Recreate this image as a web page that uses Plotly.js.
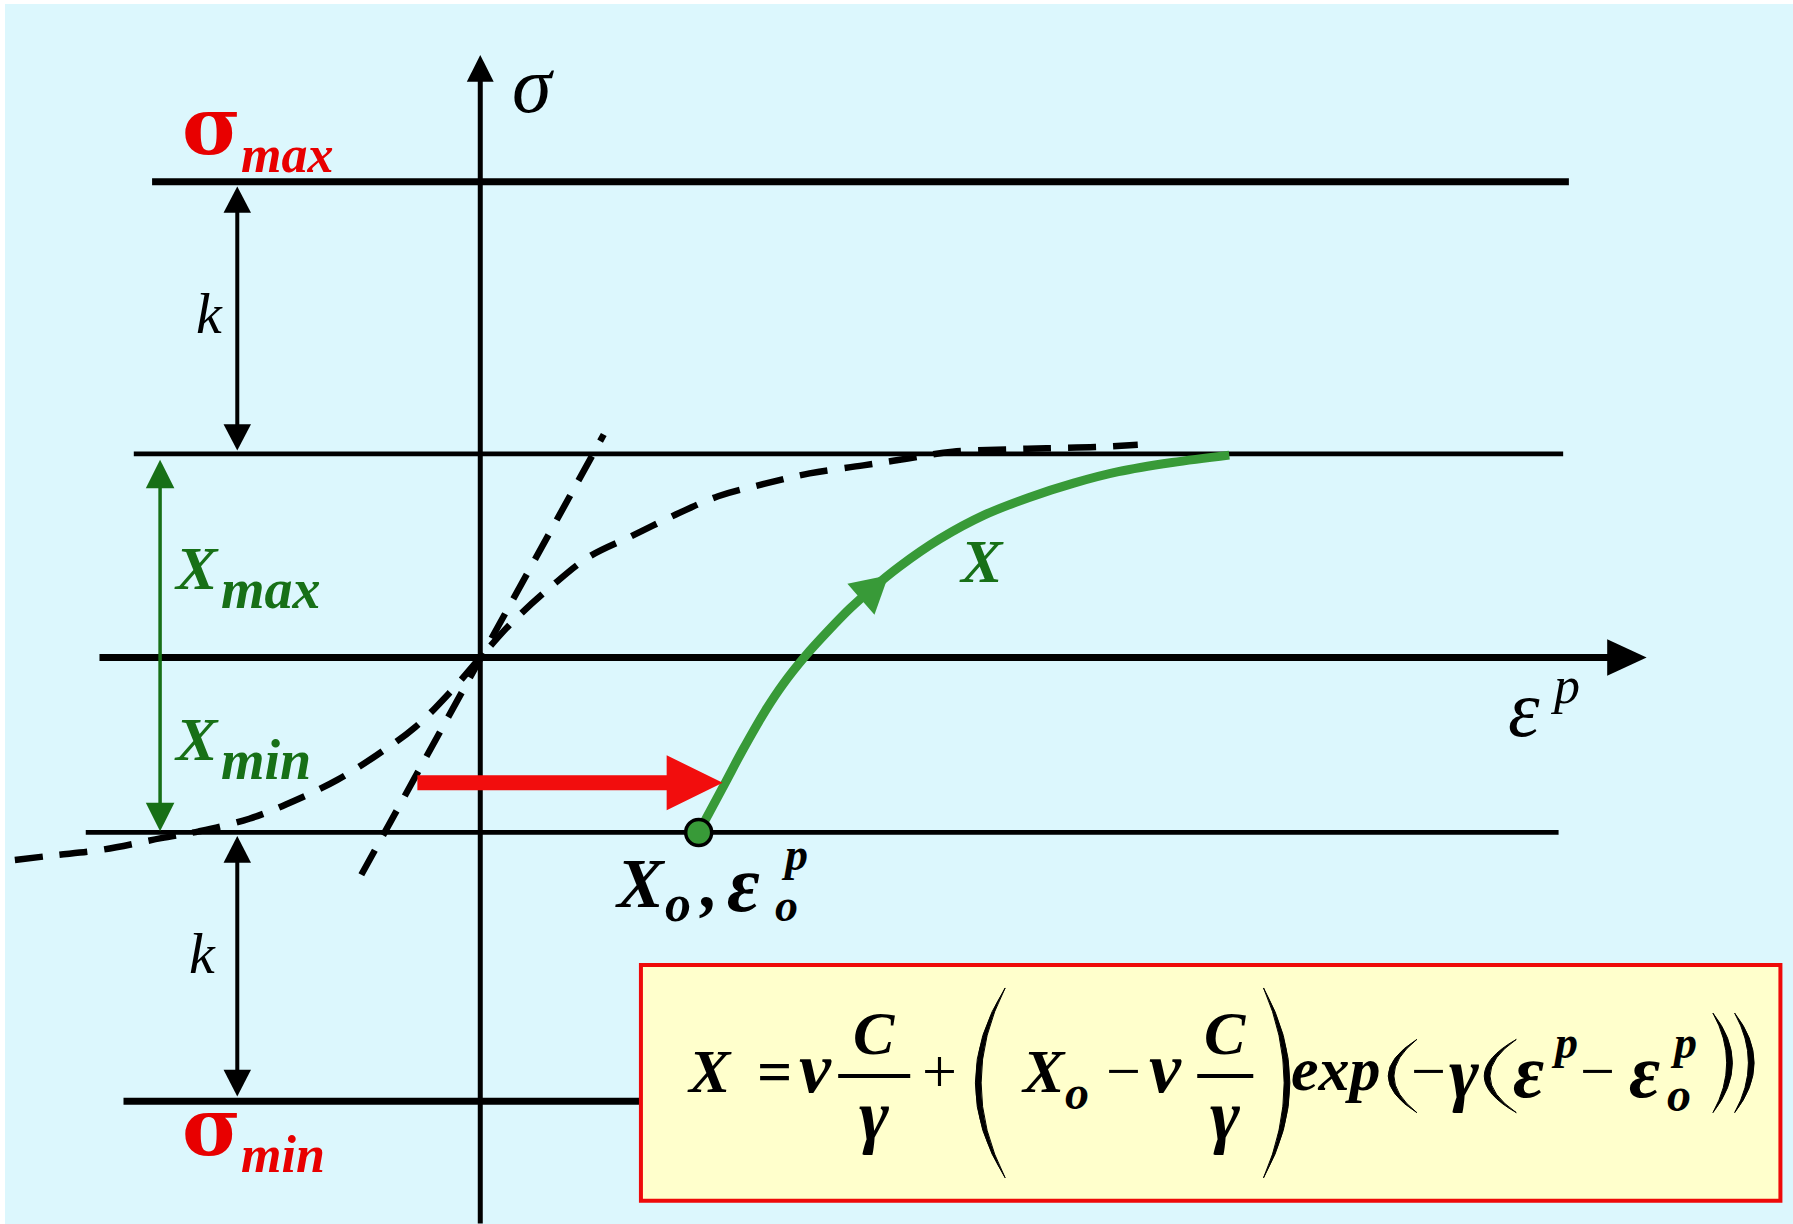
<!DOCTYPE html>
<html>
<head>
<meta charset="utf-8">
<script src="https://cdn.plot.ly/plotly-3.0.1.min.js"></script>
<style>
  html, body { margin: 0; padding: 0; background: #ffffff; }
  #chart { width: 1793px; height: 1224px; }
</style>
</head>
<body>
<div id="chart"></div>
<script>
// ---- Stress levels (stress units, origin at the axes crossing) ----
const levelNames  = ['σmax', 'Xmax', 'εp axis', 'Xmin', 'σmin'];
const levelValues = [4.16, 1.78, 0.00, -1.53, -3.88];
const levelStarts = [-2.87, -3.03, -3.33, -3.45, -3.12];
const levelEnds   = [9.52, 9.47, 9.87, 9.43, 1.50];

// ---- Saturating back-stress curve X(εp), dashed ----
const satStrain = [-4.07, -3.73, -3.30, -2.79, -2.46, -2.02, -1.62, -1.25, -0.90, -0.57, -0.27, 0.00,
                   0.28, 0.62, 0.95, 1.32, 1.71, 2.08, 2.49, 2.88, 3.35, 3.74, 4.13, 4.60, 4.95, 5.38, 5.75];
const satStress = [-1.77, -1.73, -1.68, -1.58, -1.52, -1.41, -1.25, -1.07, -0.85, -0.61, -0.31, 0.00,
                   0.31, 0.62, 0.88, 1.06, 1.25, 1.41, 1.52, 1.61, 1.68, 1.74, 1.80, 1.82, 1.83, 1.84, 1.86];

// ---- Initial slope through the origin, dashed ----
const slopeStrain = [-1.04, 1.08];
const slopeStress = [-1.90, 1.95];

// ---- Back-stress evolution starting from (X0, εp0) ----
const pathStrain = [1.91, 2.14, 2.30, 2.49, 2.65, 2.84, 3.04, 3.235, 3.43, 3.665, 4.015, 4.405, 4.80, 5.19, 5.58, 6.05, 6.55];
const pathStress = [-1.53, -1.10, -0.80, -0.47, -0.23, 0.01, 0.23, 0.43, 0.605, 0.795, 1.035, 1.245, 1.40, 1.525, 1.625, 1.705, 1.77];
const startStrain = [1.91];
const startStress = [-1.53];

// ---- Stress axis extent ----
const sigmaAxisBottom = -4.95;
const sigmaAxisTop = 5.27;
const strainAxisTip = 10.20;

// ---- Dimension arrows (strain position) ----
const kArrowStrain = -2.125;
const xArrowStrain = -2.80;

// colours
const BLACK = '#000000';
const RED = '#E80000';
const ARROW_RED = '#F20D0D';
const DARK_GREEN = '#177017';
const CURVE_GREEN = '#389A38';
const BG = '#DCF7FD';
const SERIF = 'Liberation Serif, Times New Roman, serif';
const GREEK_BOLD = 'DejaVu Serif, Liberation Serif, serif';

const traces = [];
const shapes = [];
const annotations = [];

// horizontal levels
const levelWidths = [7, 4.7, 7, 4.7, 7];
levelNames.forEach((name, i) => {
  traces.push({
    type: 'scatter', mode: 'lines', name: name,
    x: [levelStarts[i], levelEnds[i]],
    y: [levelValues[i], levelValues[i]],
    line: { color: BLACK, width: levelWidths[i] }
  });
});

// vertical stress axis
traces.push({
  type: 'scatter', mode: 'lines', name: 'σ axis',
  x: [0, 0], y: [sigmaAxisBottom, sigmaAxisTop - 0.2],
  line: { color: BLACK, width: 5 }
});

// dashed curves
const dashStyle = { color: BLACK, width: 6.5, dash: '28px,17px' };
traces.push({
  type: 'scatter', mode: 'lines', name: 'saturation',
  x: satStrain, y: satStress,
  line: Object.assign({ shape: 'spline', smoothing: 1 }, dashStyle)
});
traces.push({
  type: 'scatter', mode: 'lines', name: 'initial slope',
  x: slopeStrain, y: slopeStress, line: dashStyle
});

// dimension arrow shafts
[[0, 1], [3, 4]].forEach(([a, b]) => {
  traces.push({
    type: 'scatter', mode: 'lines', name: 'k',
    x: [kArrowStrain, kArrowStrain],
    y: [levelValues[a] - 0.1, levelValues[b] + 0.1],
    line: { color: BLACK, width: 4 }
  });
});
traces.push({
  type: 'scatter', mode: 'lines', name: 'X range',
  x: [xArrowStrain, xArrowStrain],
  y: [levelValues[1] - 0.1, levelValues[3] + 0.1],
  line: { color: DARK_GREEN, width: 3.5 }
});

// back-stress path and its starting point
traces.push({
  type: 'scatter', mode: 'lines', name: 'X',
  x: pathStrain, y: pathStress,
  line: { color: CURVE_GREEN, width: 9, shape: 'spline', smoothing: 1 }
});
traces.push({
  type: 'scatter', mode: 'markers', name: 'X0',
  x: startStrain, y: startStress,
  marker: { color: CURVE_GREEN, size: 26, line: { color: BLACK, width: 3.5 } }
});

// ---- helpers for drawn symbols ----
function headPath(tx, ty, dx, dy, len, width) {
  const n = Math.hypot(dx, dy);
  const ux = dx / n, uy = dy / n;
  const bx = tx - ux * len, by = ty - uy * len;
  const px = -uy * width / 2, py = ux * width / 2;
  return `M${tx},${ty} L${bx + px},${by + py} L${bx - px},${by - py} Z`;
}
function addHead(tx, ty, dx, dy, len, width, color) {
  shapes.push({
    type: 'path', xref: 'x', yref: 'y', layer: 'above',
    path: headPath(tx, ty, dx, dy, len, width),
    fillcolor: color, line: { width: 0 }
  });
}
function parenPath(x0, x1, y0, y1, open, th) {
  const ym = (y0 + y1) / 2;
  if (open) {
    const cOut = 2 * x0 - x1, cIn = 2 * (x0 + th) - x1;
    return `M${x1},${y1} Q${cOut},${ym} ${x1},${y0} Q${cIn},${ym} ${x1},${y1} Z`;
  }
  const cOut = 2 * x1 - x0, cIn = 2 * (x1 - th) - x0;
  return `M${x0},${y1} Q${cOut},${ym} ${x0},${y0} Q${cIn},${ym} ${x0},${y1} Z`;
}
function addParen(x0, x1, y0, y1, open, th) {
  shapes.push({
    type: 'path', xref: 'x', yref: 'y', layer: 'above',
    path: parenPath(x0, x1, y0, y1, open, th),
    fillcolor: BLACK, line: { color: BLACK, width: 1 }
  });
}
function label(text, x, y, size, color, weight, style, xanchor, family) {
  annotations.push({
    text: text, x: x, y: y, xref: 'x', yref: 'y',
    xanchor: xanchor || 'center', yanchor: 'middle',
    showarrow: false, borderpad: 0,
    font: { family: family || SERIF, size: size, color: color, weight: weight, style: style }
  });
}

// background
shapes.push({
  type: 'rect', xref: 'paper', yref: 'paper', layer: 'below',
  x0: 5 / 1793, x1: 1, y0: 0, y1: 1 - 4 / 1224,
  fillcolor: BG, line: { width: 0 }
});

// axis arrowheads
addHead(0, sigmaAxisTop, 0, 1, 0.235, 0.235, BLACK);
addHead(strainAxisTip, 0, 1, 0, 0.345, 0.32, BLACK);

// k and X-range arrowheads
addHead(kArrowStrain, levelValues[0] - 0.04, 0, 1, 0.23, 0.24, BLACK);
addHead(kArrowStrain, levelValues[1] + 0.03, 0, -1, 0.23, 0.24, BLACK);
addHead(kArrowStrain, levelValues[3] - 0.03, 0, 1, 0.235, 0.24, BLACK);
addHead(kArrowStrain, levelValues[4] + 0.04, 0, -1, 0.235, 0.24, BLACK);
addHead(xArrowStrain, levelValues[1] - 0.05, 0, 1, 0.25, 0.25, DARK_GREEN);
addHead(xArrowStrain, levelValues[3] + 0.01, 0, -1, 0.25, 0.25, DARK_GREEN);

// direction of travel along the back-stress path
addHead(3.57, 0.72, 0.235, 0.205, 0.32, 0.36, CURVE_GREEN);

// red arrow: shift of the back-stress to its new starting value
const redArrowY = -1.095, redArrowFrom = -0.55, redArrowTo = 2.12;
const shaftHalf = 0.066, headLen = 0.49, headHalf = 0.24;
shapes.push({
  type: 'path', xref: 'x', yref: 'y', layer: 'above',
  path: `M${redArrowFrom},${redArrowY + shaftHalf} L${redArrowTo - headLen},${redArrowY + shaftHalf} ` +
        `L${redArrowTo - headLen},${redArrowY + headHalf} L${redArrowTo},${redArrowY} ` +
        `L${redArrowTo - headLen},${redArrowY - headHalf} L${redArrowTo - headLen},${redArrowY - shaftHalf} ` +
        `L${redArrowFrom},${redArrowY - shaftHalf} Z`,
  fillcolor: ARROW_RED, line: { width: 0 }
});

// formula box
shapes.push({
  type: 'rect', xref: 'x', yref: 'y', layer: 'above',
  x0: 1.405, x1: 11.37, y0: -4.75, y1: -2.69,
  fillcolor: '#FFFFCC', line: { color: '#EE0A0A', width: 4 }
});
// fraction bars
[[3.13, 3.76], [6.27, 6.76]].forEach(([a, b]) => {
  shapes.push({
    type: 'line', xref: 'x', yref: 'y', layer: 'above',
    x0: a, x1: b, y0: -3.66, y1: -3.66, line: { color: BLACK, width: 4 }
  });
});
// parentheses
addParen(4.33, 4.59, -4.55, -2.89, true, 0.05);
addParen(6.85, 7.08, -4.55, -2.89, false, 0.05);
addParen(7.94, 8.19, -3.98, -3.34, true, 0.05);
addParen(8.78, 9.06, -3.98, -3.34, true, 0.05);
addParen(10.78, 10.95, -3.98, -3.11, false, 0.05);
addParen(10.97, 11.14, -3.98, -3.11, false, 0.05);

// ---- labels ----
label('σ', 0.46, 5.01, 80, BLACK, 'normal', 'italic');
label('σ', -2.35, 4.652, 80, RED, 'bold', 'normal', 'center', GREEK_BOLD);
label('max', -2.10, 4.403, 52, RED, 'bold', 'italic', 'left');
label('σ', -2.35, -4.108, 80, RED, 'bold', 'normal', 'center', GREEK_BOLD);
label('min', -2.10, -4.346, 52, RED, 'bold', 'italic', 'left');
label('X', -2.485, 0.78, 62, DARK_GREEN, 'bold', 'italic');
label('max', -2.28, 0.595, 56, DARK_GREEN, 'bold', 'italic', 'left');
label('X', -2.485, -0.715, 62, DARK_GREEN, 'bold', 'italic');
label('min', -2.28, -0.895, 56, DARK_GREEN, 'bold', 'italic', 'left');
label('k', -2.37, 3.01, 58, BLACK, 'normal', 'italic');
label('k', -2.43, -2.59, 58, BLACK, 'normal', 'italic');
label('ε', 9.13, -0.45, 80, BLACK, 'normal', 'italic');
label('p', 9.485, -0.245, 52, BLACK, 'normal', 'italic');
label('X', 4.385, 0.84, 62, DARK_GREEN, 'bold', 'italic');

// starting point label  X0 , εp0
label('X', 1.40, -1.98, 70, BLACK, 'bold', 'italic');
label('o', 1.73, -2.15, 52, BLACK, 'bold', 'italic');
label(',', 2.00, -1.98, 70, BLACK, 'bold', 'italic');
label('ε', 2.30, -1.98, 80, BLACK, 'bold', 'italic');
label('p', 2.75, -1.72, 46, BLACK, 'bold', 'italic');
label('o', 2.68, -2.17, 46, BLACK, 'bold', 'italic');

// formula  X = ν C/γ + (X0 − ν C/γ) exp(−γ(εp − εp0))
const F = 62, G = 72;
label('X', 2.005, -3.615, F, BLACK, 'bold', 'italic');
label('=', 2.575, -3.615, F, BLACK, 'bold', 'normal');
label('ν', 2.93, -3.59, G, BLACK, 'bold', 'italic');
label('C', 3.445, -3.285, F, BLACK, 'bold', 'italic');
label('γ', 3.445, -4.01, G, BLACK, 'bold', 'italic');
label('+', 4.02, -3.615, F, BLACK, 'normal', 'normal');
label('X', 4.925, -3.615, F, BLACK, 'bold', 'italic');
label('o', 5.215, -3.80, 48, BLACK, 'bold', 'italic');
label('−', 5.625, -3.615, F, BLACK, 'normal', 'normal');
label('ν', 5.995, -3.59, G, BLACK, 'bold', 'italic');
label('C', 6.515, -3.285, F, BLACK, 'bold', 'italic');
label('γ', 6.515, -4.01, G, BLACK, 'bold', 'italic');
label('exp', 7.485, -3.60, F, BLACK, 'bold', 'italic');
label('−', 8.29, -3.615, F, BLACK, 'normal', 'normal');
label('γ', 8.60, -3.64, G, BLACK, 'bold', 'italic');
label('ε', 9.17, -3.616, 76, BLACK, 'bold', 'italic');
label('p', 9.48, -3.37, 46, BLACK, 'bold', 'italic');
label('−', 9.77, -3.615, F, BLACK, 'normal', 'normal');
label('ε', 10.18, -3.616, 76, BLACK, 'bold', 'italic');
label('o', 10.485, -3.82, 48, BLACK, 'bold', 'italic');
label('p', 10.52, -3.37, 46, BLACK, 'bold', 'italic');

const layout = {
  width: 1793, height: 1224,
  margin: { l: 0, r: 0, t: 0, b: 0, pad: 0 },
  paper_bgcolor: '#ffffff', plot_bgcolor: 'rgba(0,0,0,0)',
  showlegend: false,
  xaxis: { range: [-4.20, 11.48], visible: false, fixedrange: true },
  yaxis: { range: [-4.954, 5.75], visible: false, fixedrange: true },
  shapes: shapes,
  annotations: annotations
};

Plotly.newPlot('chart', traces, layout, { staticPlot: true, displayModeBar: false });
</script>
</body>
</html>
